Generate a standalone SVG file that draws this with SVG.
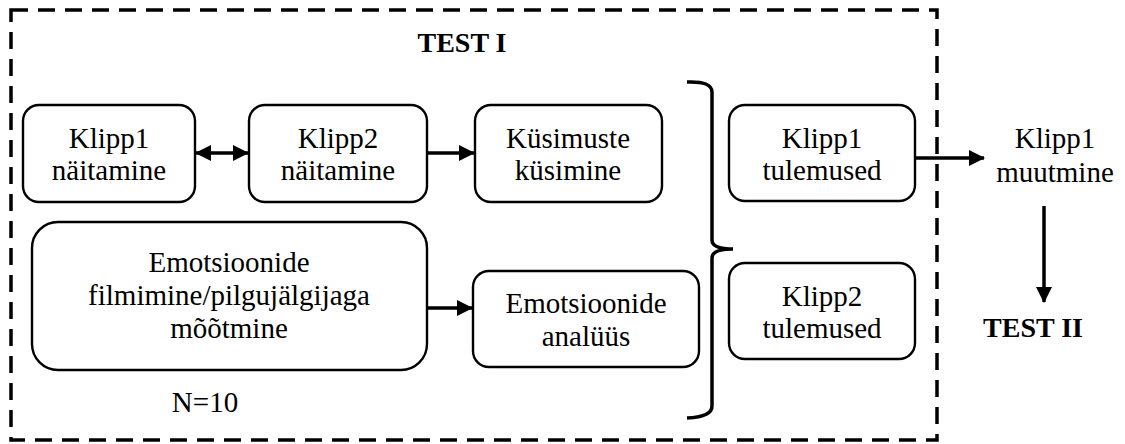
<svg xmlns="http://www.w3.org/2000/svg" width="1125" height="444" viewBox="0 0 1125 444">
<style>
.box{fill:#fff;stroke:#000;stroke-width:2.4}
.t{font-family:"Liberation Serif","Times New Roman",serif;font-size:29px;fill:#000;text-anchor:middle}
.b{font-weight:bold;font-size:28px}
.c{stroke:#000;stroke-width:3.5;fill:none}
</style>
<defs>
<marker id="ah" markerUnits="userSpaceOnUse" markerWidth="16" markerHeight="16" refX="15" refY="8" orient="auto-start-reverse" viewBox="0 0 16 16">
<path d="M0,0 L16,8 L0,16 Z" fill="#000"/>
</marker>
</defs>
<rect x="11" y="10" width="926" height="430" fill="none" stroke="#000" stroke-width="3.5" stroke-dasharray="17 10"/>
<text class="t b" x="462" y="52">TEST I</text>
<g id="klipp1">
<rect class="box" x="23" y="105" width="172" height="97" rx="16"/>
<text class="t" x="109" y="148">Klipp1</text>
<text class="t" x="109" y="180">näitamine</text>
</g>
<g id="klipp2">
<rect class="box" x="249" y="105" width="178" height="97" rx="16"/>
<text class="t" x="338" y="148">Klipp2</text>
<text class="t" x="338" y="180">näitamine</text>
</g>
<g id="kysimuste">
<rect class="box" x="475" y="105" width="187" height="97" rx="16"/>
<text class="t" x="568" y="148">Küsimuste</text>
<text class="t" x="568" y="180">küsimine</text>
</g>
<g id="emotsioonide">
<rect class="box" x="32" y="222" width="395" height="148" rx="26"/>
<text class="t" x="229" y="272">Emotsioonide</text>
<text class="t" x="229" y="305">filmimine/pilgujälgijaga</text>
<text class="t" x="229" y="338">mõõtmine</text>
</g>
<g id="n10">
<text class="t" x="205" y="412">N=10</text>
</g>
<g id="analyys">
<rect class="box" x="473" y="271" width="226" height="96" rx="16"/>
<text class="t" x="586" y="313">Emotsioonide</text>
<text class="t" x="586" y="346">analüüs</text>
</g>
<g id="tulemused1">
<rect class="box" x="729" y="105" width="186" height="96" rx="16"/>
<text class="t" x="822" y="148">Klipp1</text>
<text class="t" x="822" y="180">tulemused</text>
</g>
<g id="tulemused2">
<rect class="box" x="729" y="263" width="186" height="96" rx="16"/>
<text class="t" x="822" y="306">Klipp2</text>
<text class="t" x="822" y="338">tulemused</text>
</g>
<g id="muutmine">
<text class="t" x="1055" y="148">Klipp1</text>
<text class="t" x="1055" y="182">muutmine</text>
</g>
<g id="test2">
<text class="t b" x="1033" y="337">TEST II</text>
</g>
<g id="connectors">
<line class="c" x1="196" y1="153" x2="248" y2="153" marker-start="url(#ah)" marker-end="url(#ah)"/>
<line class="c" x1="427" y1="153" x2="474" y2="153" marker-end="url(#ah)"/>
<line class="c" x1="427" y1="308" x2="472" y2="308" marker-end="url(#ah)"/>
<line class="c" x1="915" y1="158" x2="984" y2="158" marker-end="url(#ah)"/>
<line class="c" x1="1044" y1="206" x2="1044" y2="302" marker-end="url(#ah)"/>
<path class="c" d="M687,82 Q712,81 712,92 L712,240 Q712,249 733,249 Q712,249 712,258 L712,406 Q712,417 687,418"/>
</g>
</svg>
